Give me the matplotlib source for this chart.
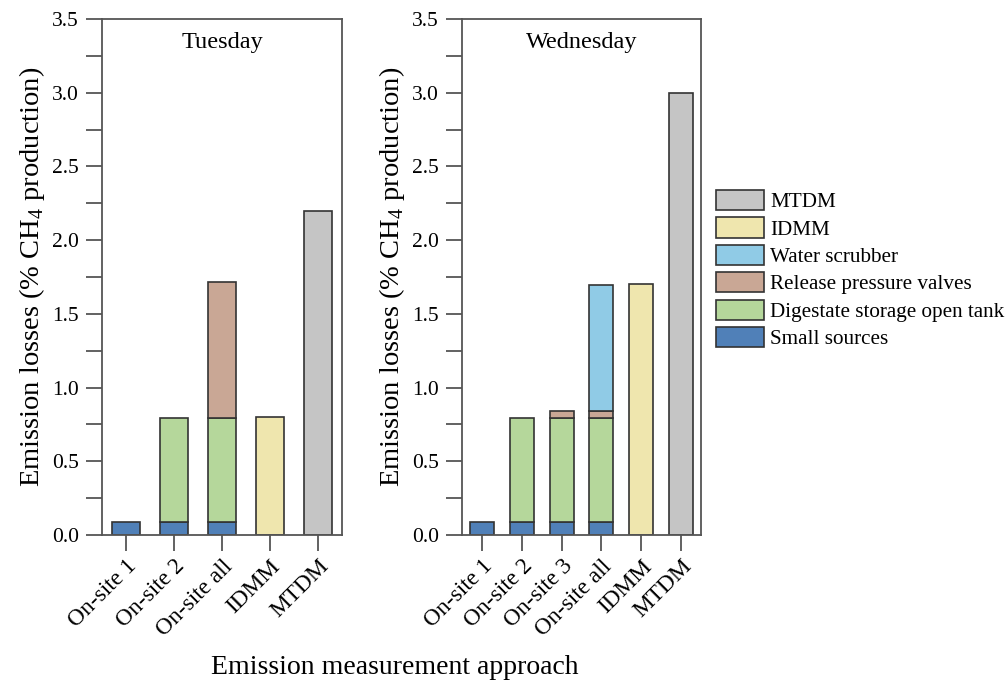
import numpy as np
import matplotlib
matplotlib.use('Agg')
import matplotlib.pyplot as plt
import matplotlib.transforms as mtransforms
from matplotlib.patches import Patch
from matplotlib.ticker import MultipleLocator

plt.rcParams['font.family'] = 'Liberation Serif'
plt.rcParams['mathtext.fontset'] = 'custom'
plt.rcParams['mathtext.rm'] = 'Liberation Serif'

# Data (% CH4 production)
tue_labels = ['On-site 1', 'On-site 2', 'On-site all', 'IDMM', 'MTDM']
tue_small = [0.085, 0.085, 0.085, 0.0, 0.0]
tue_digest = [0.0, 0.71, 0.71, 0.0, 0.0]
tue_valves = [0.0, 0.0, 0.92, 0.0, 0.0]
tue_scrubber = [0.0, 0.0, 0.0, 0.0, 0.0]
tue_idmm = [0.0, 0.0, 0.0, 0.80, 0.0]
tue_mtdm = [0.0, 0.0, 0.0, 0.0, 2.20]

wed_labels = ['On-site 1', 'On-site 2', 'On-site 3', 'On-site all', 'IDMM', 'MTDM']
wed_small = [0.085, 0.085, 0.085, 0.085, 0.0, 0.0]
wed_digest = [0.0, 0.71, 0.71, 0.71, 0.0, 0.0]
wed_valves = [0.0, 0.0, 0.043, 0.043, 0.0, 0.0]
wed_scrubber = [0.0, 0.0, 0.0, 0.858, 0.0, 0.0]
wed_idmm = [0.0, 0.0, 0.0, 0.0, 1.70, 0.0]
wed_mtdm = [0.0, 0.0, 0.0, 0.0, 0.0, 3.00]

names = ['Small sources', 'Digestate storage open tank', 'Release pressure valves',
         'Water scrubber', 'IDMM', 'MTDM']
colors = ['#5080b8', '#b5d79b', '#c9a795', '#90cbe6', '#efe6ae', '#c5c5c5']

tue = [tue_small, tue_digest, tue_valves, tue_scrubber, tue_idmm, tue_mtdm]
wed = [wed_small, wed_digest, wed_valves, wed_scrubber, wed_idmm, wed_mtdm]

fig = plt.figure(figsize=(10.08, 6.88), dpi=100)
ax1 = fig.add_axes([102/1008, 1 - 535/688, 240/1008, 516/688])
ax2 = fig.add_axes([462/1008, 1 - 535/688, 239/1008, 516/688])

spine_col = '#555555'
ylab = 'Emission losses (% CH$_\\mathregular{4}$ production)'
shift = mtransforms.ScaledTranslation(0.11, 0.04, fig.dpi_scale_trans)

for ax, data, labels, day in [(ax1, tue, tue_labels, 'Tuesday'),
                              (ax2, wed, wed_labels, 'Wednesday')]:
    x = np.arange(len(labels))
    bottom = np.zeros(len(labels))
    for vals, col in zip(data, colors):
        vals = np.array(vals)
        m = vals > 0
        ax.bar(x[m], vals[m], 0.6, bottom=bottom[m], color=col,
               edgecolor='#333333', linewidth=1.2, zorder=2)
        bottom = bottom + vals
    ax.set_xlim(-0.5, len(labels) - 0.5)
    ax.set_ylim(0, 3.5)
    ax.yaxis.set_minor_locator(MultipleLocator(0.25))
    ax.set_yticks(np.arange(0, 3.51, 0.5))
    ax.set_yticklabels(['%.1f' % v for v in np.arange(0, 3.51, 0.5)], fontsize=15.5)
    ax.set_xticks(x)
    ax.set_xticklabels(labels, rotation=45, ha='right', rotation_mode='anchor',
                       fontsize=16.8)
    for t in ax.get_xticklabels():
        t.set_transform(t.get_transform() + shift)
    ax.tick_params(axis='both', which='both', direction='out', length=11.5,
                   width=1.3, color=spine_col)
    ax.tick_params(axis='y', pad=5)
    for s in ax.spines.values():
        s.set_color(spine_col)
        s.set_linewidth(1.3)
    ax.text(0.5, 0.975, day, transform=ax.transAxes, ha='center', va='top',
            fontsize=17.5)
    ax.set_ylabel(ylab, fontsize=20.5, labelpad=4)

handles = [Patch(facecolor=c, edgecolor='#333333', linewidth=1.2, label=n)
           for c, n in zip(colors, names)][::-1]
fig.legend(handles=handles, loc='upper left', bbox_to_anchor=(716/1008, 1 - 190/688),
           frameon=False, fontsize=15.2, handlelength=2.26, handleheight=1.1,
           labelspacing=0.24, handletextpad=0.3, borderpad=0, borderaxespad=0)

fig.text(395/1008, 1 - 668/688, 'Emission measurement approach', ha='center',
         va='center', fontsize=20)

fig.savefig('out.png', dpi=100)
